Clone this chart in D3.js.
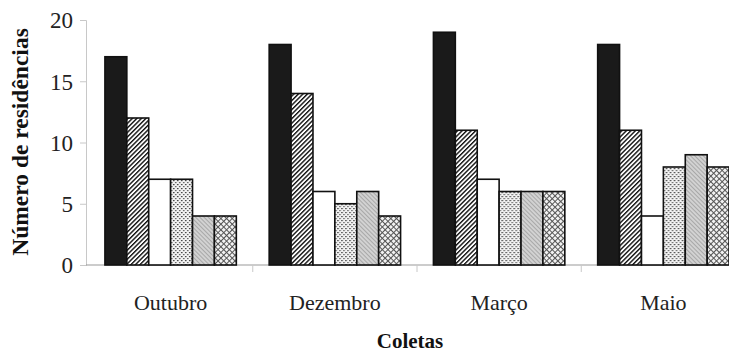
<!DOCTYPE html>
<html>
<head>
<meta charset="utf-8">
<script src="https://cdn.jsdelivr.net/npm/d3@7"></script>
<style>
  html, body { margin: 0; padding: 0; background: #fff; }
  svg { display: block; }
</style>
</head>
<body>
<svg id="chart" width="729" height="355"></svg>
<script>
const categories = ["Outubro", "Dezembro", "Março", "Maio"];
const seriesNames = ["s1", "s2", "s3", "s4", "s5", "s6"];
const s1 = [17, 18, 19, 18];
const s2 = [12, 14, 11, 11];
const s3 = [7, 6, 7, 4];
const s4 = [7, 5, 6, 8];
const s5 = [4, 6, 6, 9];
const s6 = [4, 4, 6, 8];
const yTicks = [0, 5, 10, 15, 20];
const yTitle = "Número de residências";
const xTitle = "Coletas";

const seriesValues = [s1, s2, s3, s4, s5, s6];

const svg = d3.select("#chart");
const defs = svg.append("defs");

// Patterns
const p2 = defs.append("pattern").attr("id", "pat2").attr("patternUnits", "userSpaceOnUse")
  .attr("width", 3.2).attr("height", 3.2).attr("patternTransform", "rotate(45)");
p2.append("rect").attr("width", 3.2).attr("height", 3.2).attr("fill", "#fff");
p2.append("rect").attr("x", 0).attr("width", 1.4).attr("height", 3.2).attr("fill", "#111");

const p4 = defs.append("pattern").attr("id", "pat4").attr("patternUnits", "userSpaceOnUse")
  .attr("width", 4).attr("height", 4);
p4.append("rect").attr("width", 4).attr("height", 4).attr("fill", "#f4f4f4");
p4.append("rect").attr("x", 0).attr("y", 0).attr("width", 1.6).attr("height", 1.2).attr("fill", "#444");
p4.append("rect").attr("x", 2).attr("y", 2).attr("width", 1.6).attr("height", 1.2).attr("fill", "#666");

const p5 = defs.append("pattern").attr("id", "pat5").attr("patternUnits", "userSpaceOnUse")
  .attr("width", 3).attr("height", 3).attr("patternTransform", "rotate(-45)");
p5.append("rect").attr("width", 3).attr("height", 3).attr("fill", "#d2d2d2");
p5.append("rect").attr("x", 0).attr("width", 1).attr("height", 3).attr("fill", "#a8a8a8");

const p6 = defs.append("pattern").attr("id", "pat6").attr("patternUnits", "userSpaceOnUse")
  .attr("width", 4).attr("height", 4).attr("patternTransform", "rotate(45)");
p6.append("rect").attr("width", 4).attr("height", 4).attr("fill", "#f2f2f2");
p6.append("rect").attr("x", 0).attr("width", 1).attr("height", 4).attr("fill", "#555");
p6.append("rect").attr("y", 0).attr("width", 4).attr("height", 1).attr("fill", "#555");

const fills = ["#1a1a1a", "url(#pat2)", "#ffffff", "url(#pat4)", "url(#pat5)", "url(#pat6)"];

const x0 = d3.scaleBand().domain(categories).range([88.5, 745.5]).paddingInner(0.2).paddingOuter(0.1);
const x1 = d3.scaleBand().domain(seriesNames).range([0, x0.bandwidth()]).padding(0);
const y = d3.scaleLinear().domain([0, 20]).range([265, 20]);

// Y axis
const yAxis = svg.append("g").attr("transform", "translate(86,0)")
  .call(d3.axisLeft(y).tickValues(yTicks).tickSize(6).tickPadding(7).tickFormat(d3.format("d")));
yAxis.select(".domain").attr("stroke", "#c8c8c8").attr("stroke-width", 1);
yAxis.selectAll(".tick line").attr("stroke", "#c8c8c8");
yAxis.selectAll(".tick text").attr("font-family", "Liberation Serif, Times New Roman, serif")
  .attr("font-size", 23).attr("fill", "#222").attr("dy", "0.34em");

// baseline
svg.append("line").attr("x1", 86).attr("x2", 729).attr("y1", y(0)).attr("y2", y(0))
  .attr("stroke", "#999").attr("stroke-width", 1);

// boundary ticks
const bounds = categories.map(c => x0(c) - x0.step() * x0.paddingInner() / 2).slice(1);
svg.selectAll(".btick").data(bounds).join("line")
  .attr("x1", d => d).attr("x2", d => d).attr("y1", y(0)).attr("y2", y(0) + 7)
  .attr("stroke", "#c8c8c8");

// Bars
const groups = svg.selectAll(".grp").data(categories).join("g")
  .attr("transform", c => `translate(${x0(c)},0)`);
groups.selectAll("rect").data((c, ci) => seriesNames.map((s, si) => ({ s, si, v: seriesValues[si][ci] })))
  .join("rect")
  .attr("x", d => x1(d.s))
  .attr("y", d => y(d.v))
  .attr("width", x1.bandwidth())
  .attr("height", d => y(0) - y(d.v))
  .attr("fill", d => fills[d.si])
  .attr("stroke", "#111")
  .attr("stroke-width", 1.6);

// Category labels
svg.selectAll(".cat").data(categories).join("text")
  .attr("x", c => x0(c) + x0.bandwidth() / 2)
  .attr("y", 310)
  .attr("text-anchor", "middle")
  .attr("font-family", "Liberation Serif, Times New Roman, serif")
  .attr("font-size", 22).attr("fill", "#222")
  .text(c => c);

// X title
svg.append("text").attr("x", 410).attr("y", 348).attr("text-anchor", "middle")
  .attr("font-family", "Liberation Serif, Times New Roman, serif")
  .attr("font-weight", "bold").attr("font-size", 21).attr("fill", "#111")
  .text(xTitle);

// Y title
svg.append("text").attr("transform", "translate(28,142) rotate(-90)")
  .attr("text-anchor", "middle")
  .attr("font-family", "Liberation Serif, Times New Roman, serif")
  .attr("font-weight", "bold").attr("font-size", 23.5).attr("fill", "#111")
  .text(yTitle);
</script>
</body>
</html>
